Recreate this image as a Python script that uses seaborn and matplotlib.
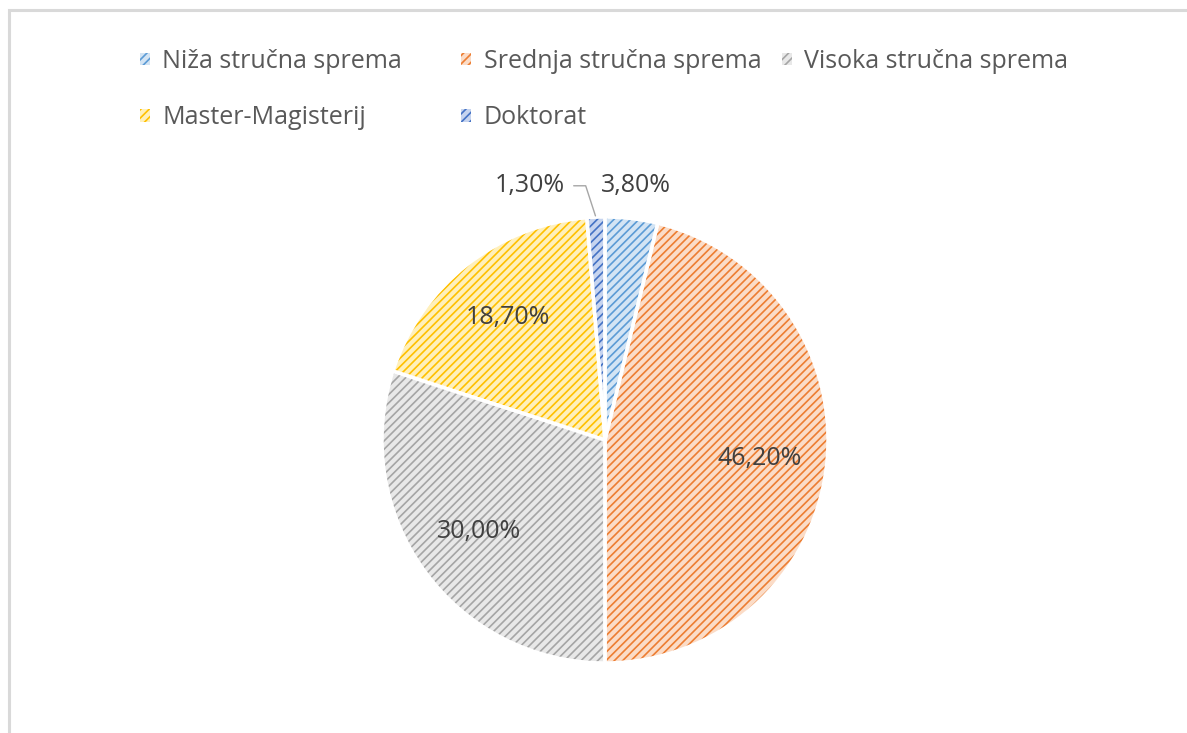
import numpy as np
import seaborn as sns
import matplotlib.pyplot as plt
from matplotlib.patches import Patch, Rectangle

# ---------------------------------------------------------------
# Data
# ---------------------------------------------------------------
categories = ["Niža stručna sprema", "Srednja stručna sprema", "Visoka stručna sprema",
              "Master-Magisterij", "Doktorat"]
shares = [3.8, 46.2, 30.0, 18.7, 1.3]

main_colors = ["#5B9BD5", "#ED7D31", "#A5A5A5", "#FFC000", "#4472C4"]
fill_colors = ["#d3e4f4", "#fbdcc7", "#e8e8e8", "#fff0bb", "#c6d4ef"]

sns.set_theme(style="white")
plt.rcParams["font.family"] = ["Open Sans", "DejaVu Sans"]
plt.rcParams["hatch.linewidth"] = 1.2

text_color = "#595959"

fig = plt.figure(figsize=(11.87, 7.33), dpi=100)

# light grey chart border (runs off right and bottom edge)
fig.add_artist(Rectangle((8.5 / 1187, -0.05), 1.2, 1 - 9.5 / 733 + 0.05,
                         transform=fig.transFigure, fill=False,
                         edgecolor="#d9d9d9", linewidth=2.2))

# ---------------------------------------------------------------
# Pie
# ---------------------------------------------------------------
cx, cy, r = 605, 440, 223
ax = fig.add_axes([(cx - r) / 1187, (733 - cy - r) / 733, 2 * r / 1187, 2 * r / 733])

wedges, _ = ax.pie(shares, colors=fill_colors, startangle=90, counterclock=False,
                   radius=1, wedgeprops=dict(linewidth=0))
for w, c in zip(wedges, main_colors):
    w.set_edgecolor(c)
    w.set_hatch("////")
    w.set_linewidth(0)

# white separators on top
ax.pie(shares, colors=["none"] * len(shares), startangle=90, counterclock=False,
       radius=1, wedgeprops=dict(linewidth=2.5, edgecolor="white", fill=False))

ax.set_xlim(-1, 1)
ax.set_ylim(-1, 1)
ax.set_aspect("equal")
ax.axis("off")

# data labels
for i, (w, v) in enumerate(zip(wedges, shares)):
    label = f"{v:.2f}".replace(".", ",") + "%"
    mid = np.deg2rad((w.theta1 + w.theta2) / 2)
    if v > 10:
        d = 0.7
        ax.text(d * np.cos(mid), d * np.sin(mid), label, ha="center", va="center",
                fontsize=18, color="#404040")
    elif i == 0:
        d = 1.15
        ax.text(d * np.cos(mid), d * np.sin(mid), label, ha="center", va="center",
                fontsize=18, color="#404040")
    else:
        ax.annotate(label, xy=(np.cos(mid), np.sin(mid)), xytext=(-0.18, 1.14),
                    ha="right", va="center", fontsize=18, color="#404040",
                    arrowprops=dict(arrowstyle="-", color="#a6a6a6", lw=1,
                                    shrinkA=4, shrinkB=1,
                                    connectionstyle="angle,angleA=0,angleB=108,rad=0"))

# ---------------------------------------------------------------
# Legend (three columns, row-wise order like Excel)
# ---------------------------------------------------------------
handles = [Patch(facecolor=f, edgecolor=c, hatch="////", linewidth=0)
           for f, c in zip(fill_colors, main_colors)]
columns = [[0, 3], [1, 4], [2]]
col_x = [140, 461, 782]
for xs, idx in zip(col_x, columns):
    fig.legend([handles[k] for k in idx], [categories[k] for k in idx],
               loc="upper left", bbox_to_anchor=(xs / 1187, 1 - 49 / 733),
               frameon=False, fontsize=18, labelcolor=text_color,
               handlelength=0.4, handleheight=0.4, handletextpad=0.5,
               labelspacing=1.25, borderpad=0, borderaxespad=0)

fig.savefig("out.png", dpi=100, facecolor="white")
